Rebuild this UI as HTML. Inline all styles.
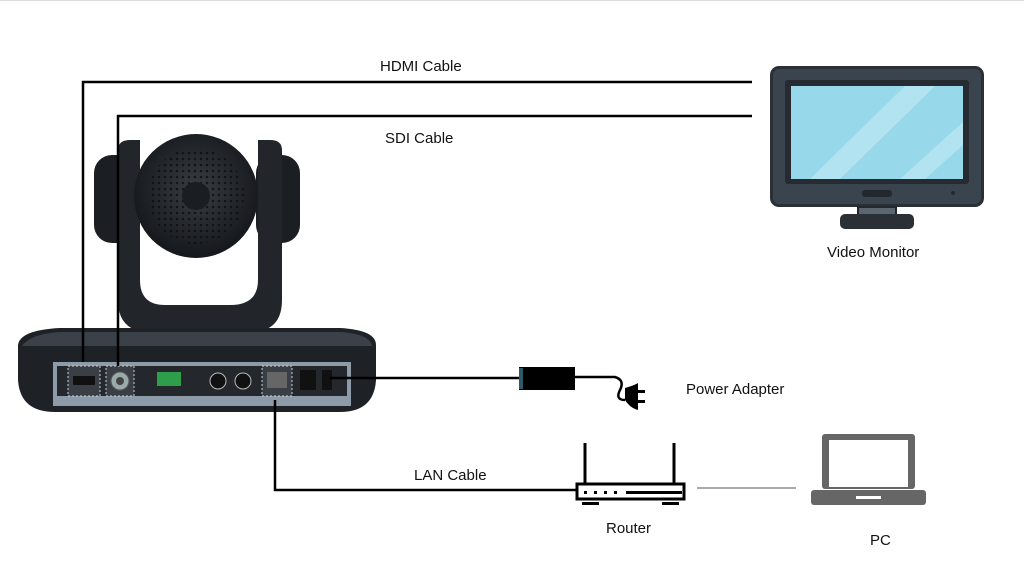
<!DOCTYPE html>
<html><head><style>
body{margin:0;background:#fff;}
svg{display:block;font-family:"Liberation Sans",sans-serif;}
</style></head><body>
<svg width="1024" height="570" viewBox="0 0 1024 570">
<defs>
<radialGradient id="dome" cx="50%" cy="45%" r="55%"><stop offset="0" stop-color="#3a3e44"/><stop offset="1" stop-color="#14171b"/></radialGradient>
<pattern id="dots" width="6" height="6" patternUnits="userSpaceOnUse"><circle cx="3" cy="3" r="1.3" fill="#0c0e10"/></pattern>
</defs>
<line x1="0" y1="0.5" x2="1024" y2="0.5" stroke="#ddd"/>
<!-- camera side lenses -->
<rect x="94" y="155" width="44" height="88" rx="18" fill="#1b1e22"/>
<rect x="256" y="155" width="44" height="88" rx="18" fill="#1b1e22"/>
<!-- bracket -->
<path d="M118 150 Q118 140 130 140 L140 140 L140 280 Q140 305 165 305 L230 305 Q258 305 258 280 L258 140 L270 140 Q282 140 282 150 L282 300 Q282 332 250 332 L150 332 Q118 332 118 300 Z" fill="#22262b"/>
<!-- head -->
<circle cx="196" cy="196" r="62" fill="url(#dome)"/>
<circle cx="196" cy="196" r="48" fill="url(#dots)" opacity="0.8"/>
<circle cx="196" cy="196" r="14" fill="#1a1d21"/>
<!-- base -->
<path d="M18 345 Q20 330 60 328 L340 328 Q376 330 376 345 L376 380 Q374 412 340 412 L55 412 Q20 412 18 380 Z" fill="#1e2226"/>
<path d="M22 346 Q30 334 60 332 L340 332 Q370 334 372 346 Z" fill="#3b4148"/>
<rect x="53" y="362" width="298" height="44" fill="#8d9aa8"/>
<rect x="57" y="366" width="290" height="30" fill="#24282d"/>
<rect x="68" y="366" width="32" height="30" fill="#3a3f45" stroke="#ccd" stroke-dasharray="2 2"/>
<rect x="73" y="376" width="22" height="9" fill="#111"/>
<rect x="106" y="366" width="28" height="30" fill="#3a3f45" stroke="#ccd" stroke-dasharray="2 2"/>
<circle cx="120" cy="381" r="9" fill="#9aa" stroke="#555"/><circle cx="120" cy="381" r="4" fill="#444"/>
<rect x="157" y="372" width="24" height="14" fill="#2e9e4a"/>
<circle cx="218" cy="381" r="8" fill="#111" stroke="#bbb"/><circle cx="243" cy="381" r="8" fill="#111" stroke="#bbb"/>
<rect x="262" y="366" width="30" height="30" fill="#3a3f45" stroke="#ccd" stroke-dasharray="2 2"/>
<rect x="267" y="372" width="20" height="16" fill="#666"/>
<rect x="300" y="370" width="16" height="20" fill="#111"/>
<rect x="322" y="370" width="10" height="20" fill="#111"/>
<!-- cables -->
<g stroke="#000" stroke-width="2.5" fill="none">
<path d="M83 362 V82 H752"/>
<path d="M118 366 V116 H752"/>
<path d="M275 400 V490 H577"/>
<path d="M330 378 H520"/>
<path d="M574 377 H615 Q625 380 620 390 Q615 400 625 400"/>
</g>
<line x1="697" y1="488" x2="796" y2="488" stroke="#555" stroke-width="1"/>
<!-- power adapter -->
<rect x="519" y="367" width="56" height="23" fill="#000"/>
<rect x="519" y="368" width="4" height="21" fill="#2d5a66"/>
<path d="M625 388 Q635 385 638 383 L638 410 Q630 408 625 400 Z" fill="#000"/>
<rect x="637" y="390" width="8" height="3" fill="#000"/><rect x="637" y="400" width="8" height="3" fill="#000"/>
<!-- router -->
<g stroke="#000" stroke-width="3" fill="none">
<line x1="585" y1="443" x2="585" y2="484"/><line x1="674" y1="443" x2="674" y2="484"/>
<rect x="577" y="484" width="107" height="15"/>
</g>
<g fill="#000"><rect x="584" y="491" width="3" height="3"/><rect x="594" y="491" width="3" height="3"/><rect x="604" y="491" width="3" height="3"/><rect x="614" y="491" width="3" height="3"/><rect x="626" y="491" width="56" height="3"/>
<rect x="582" y="502" width="17" height="3"/><rect x="662" y="502" width="17" height="3"/></g>
<!-- laptop -->
<rect x="822" y="434" width="93" height="55" rx="3" fill="#666"/>
<rect x="829" y="440" width="79" height="47" fill="#fff"/>
<rect x="811" y="490" width="115" height="15" rx="3" fill="#666"/>
<rect x="856" y="496" width="25" height="3" fill="#fff"/>
<!-- monitor -->
<rect x="770" y="66" width="214" height="141" rx="9" fill="#2a3036"/>
<rect x="773" y="69" width="208" height="135" rx="6" fill="#3a444e"/>
<rect x="785" y="80" width="184" height="104" rx="3" fill="#252b31"/>
<rect x="791" y="86" width="172" height="93" fill="#97d9ea"/>
<polygon points="810,179 905,86 935,86 840,179" fill="#b2e3f0"/>
<polygon points="900,179 963,122 963,145 925,179" fill="#b2e3f0"/>
<rect x="862" y="190" width="30" height="7" rx="3" fill="#22282e"/>
<circle cx="953" cy="193" r="2" fill="#22282e"/>
<rect x="858" y="207" width="38" height="9" fill="#5b6670" stroke="#22282e" stroke-width="2"/>
<rect x="840" y="214" width="74" height="15" rx="5" fill="#2a3036"/>
<!-- labels -->
<g font-size="15" fill="#111">
<text x="380" y="71">HDMI Cable</text>
<text x="385" y="143">SDI Cable</text>
<text x="827" y="257">Video Monitor</text>
<text x="686" y="394">Power Adapter</text>
<text x="414" y="480">LAN Cable</text>
<text x="606" y="533">Router</text>
<text x="870" y="545">PC</text>
</g>
</svg>
</body></html>
